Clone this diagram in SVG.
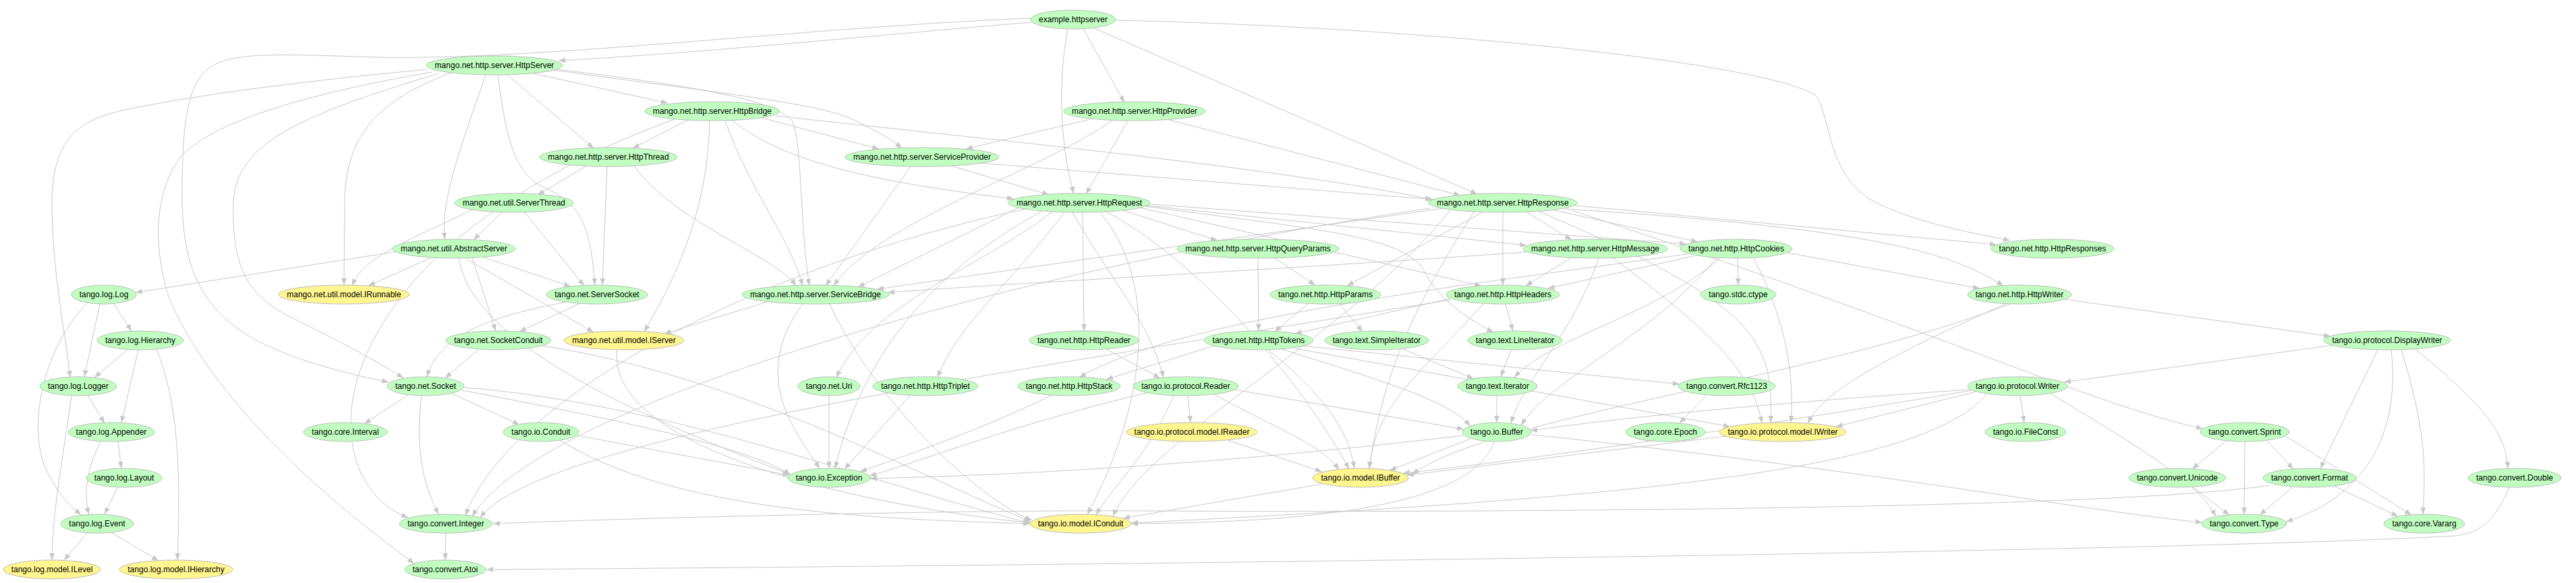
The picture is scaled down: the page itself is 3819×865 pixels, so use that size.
<svg xmlns="http://www.w3.org/2000/svg" width="3819" height="865" viewBox="0 0 3819 865">
<style>
.e path{fill:none;stroke:#c8c8c8;stroke-width:1;marker-end:url(#ah)}
.n ellipse{stroke:#bbbbbb;stroke-width:1}
.g ellipse{fill:#c1ffc1}
.y ellipse{fill:#fff68f}
.n text{font-family:"Liberation Sans",Arial,sans-serif;font-size:12px;text-anchor:middle;fill:#000}
</style>
<defs>
<marker id="ah" markerUnits="userSpaceOnUse" markerWidth="10" markerHeight="8" viewBox="0 0 10 8" refX="10" refY="4" orient="auto"><path d="M0,0L10,4L0,8z" fill="#c8c8c8"/></marker>
</defs>
<rect width="3819" height="865" fill="#ffffff"/>
<g id="edges" class="e">
<path d="M1529,33 C1300,52 1050,78 828,90"/>
<path d="M1606,43 L1667,152"/>
<path d="M1583,43 C1568,120 1572,220 1592,287"/>
<path d="M1620,41 L2190,288"/>
<path d="M1654,30 C2100,40 2600,90 2690,140 C2715,165 2705,260 2780,300 C2850,335 2950,350 2980,357"/>
<path d="M1529,27 C1200,40 800,90 560,85 C400,80 330,75 300,110 C275,140 270,200 270,290 C270,400 300,460 380,505 C450,540 520,555 576,567"/>
<path d="M791,109 L990,153"/>
<path d="M751,110 L880,220"/>
<path d="M822,104 C1000,130 1200,150 1260,175 C1300,195 1320,205 1337,220"/>
<path d="M826,103 C1050,130 1150,150 1175,180 C1190,220 1185,330 1200,424"/>
<path d="M720,111 C690,200 650,300 660,355"/>
<path d="M738,111 C750,200 760,250 800,275 C860,300 875,330 882,423"/>
<path d="M668,108 C560,150 512,200 511,300 L510,423"/>
<path d="M634,103 C450,120 300,140 200,160 C120,175 78,200 77,300 C77,400 95,480 104,560"/>
<path d="M640,107 C450,140 320,180 270,230 C230,280 225,360 250,440 C290,540 400,680 614,836"/>
<path d="M650,109 C450,170 350,210 346,300 C343,400 370,440 430,470 C500,505 550,530 598,561"/>
<path d="M1020,178 L938,220"/>
<path d="M1130,175 L1303,221"/>
<path d="M1085,178 C1150,230 1250,265 1503,295"/>
<path d="M1150,172 C1500,210 1900,250 2123,296"/>
<path d="M1075,179 C1110,280 1170,350 1190,424"/>
<path d="M1052,179 C1050,300 1010,400 955,492"/>
<path d="M1000,177 C850,230 700,320 620,410 C540,500 500,600 530,690 C550,740 580,758 605,768"/>
<path d="M1620,176 L1432,221"/>
<path d="M1672,179 L1610,288"/>
<path d="M1730,177 L2165,290"/>
<path d="M1650,178 C1550,250 1300,330 1236,424"/>
<path d="M870,246 L797,289"/>
<path d="M900,247 L893,423"/>
<path d="M940,246 C1000,330 1150,380 1180,424"/>
<path d="M1410,246 L1555,289"/>
<path d="M1455,242 L2125,296"/>
<path d="M1350,247 L1224,424"/>
<path d="M745,314 L702,356"/>
<path d="M700,311 C600,360 540,380 522,424"/>
<path d="M778,315 L866,424"/>
<path d="M1665,312 L1805,357"/>
<path d="M1700,305 L2263,364"/>
<path d="M1705,303 L2500,362"/>
<path d="M1605,315 L1607,491"/>
<path d="M1560,314 C1450,400 1290,450 1240,560"/>
<path d="M1578,315 C1500,420 1420,480 1390,560"/>
<path d="M1510,308 L1272,426"/>
<path d="M1690,308 L2196,424"/>
<path d="M1698,306 C1950,340 2080,350 2110,400 C2130,440 2170,470 2214,493"/>
<path d="M1590,315 C1650,420 1700,470 1725,560"/>
<path d="M1545,313 C1350,420 1270,560 1238,695"/>
<path d="M1640,314 C1800,400 1950,600 2000,696"/>
<path d="M1520,310 C1100,400 750,600 690,765"/>
<path d="M1630,314 C1720,420 1700,600 1612,763"/>
<path d="M2262,314 L2330,356"/>
<path d="M2300,311 L2517,359"/>
<path d="M2335,305 L2960,363"/>
<path d="M2320,310 C2800,340 2900,380 2970,424"/>
<path d="M2200,314 L1997,424"/>
<path d="M2228,315 L2228,423"/>
<path d="M2280,313 C2600,450 2630,500 2625,627"/>
<path d="M2140,309 L1300,429"/>
<path d="M2185,314 C2100,450 2050,550 2030,695"/>
<path d="M2150,312 C2000,500 1700,650 1650,766"/>
<path d="M2120,309 C1500,400 800,600 700,766"/>
<path d="M2330,312 C2900,500 3100,600 3266,636"/>
<path d="M590,373 L201,434"/>
<path d="M640,382 L546,424"/>
<path d="M715,381 L846,425"/>
<path d="M700,383 L735,491"/>
<path d="M690,383 L880,493"/>
<path d="M680,383 C700,500 900,600 1172,704"/>
<path d="M1890,383 L1950,423"/>
<path d="M1865,383 L1866,491"/>
<path d="M2330,382 L2262,424"/>
<path d="M2262,374 C1900,400 1500,420 1316,434"/>
<path d="M2370,383 C2330,500 2260,560 2240,628"/>
<path d="M2390,382 C2550,500 2600,560 2612,628"/>
<path d="M2576,383 L2577,423"/>
<path d="M2510,380 L2295,428"/>
<path d="M2650,375 L2935,428"/>
<path d="M2550,383 C2450,470 2300,500 2245,560"/>
<path d="M2545,382 C2450,500 2300,560 2255,631"/>
<path d="M2600,383 C2650,480 2660,560 2655,627"/>
<path d="M2500,377 C2200,420 1750,470 1600,560"/>
<path d="M1940,450 L1890,492"/>
<path d="M1985,450 L2020,492"/>
<path d="M2150,443 L1920,495"/>
<path d="M2232,451 L2243,491"/>
<path d="M2200,450 C2100,560 2040,600 2030,695"/>
<path d="M2150,445 C1500,550 800,650 712,768"/>
<path d="M3060,444 L3455,499"/>
<path d="M2975,450 C2750,550 2700,590 2680,628"/>
<path d="M2980,451 C2700,560 2200,620 2094,704"/>
<path d="M168,450 L195,491"/>
<path d="M148,451 L125,559"/>
<path d="M130,449 C60,520 40,640 70,700 C90,740 110,755 120,764"/>
<path d="M190,518 L140,560"/>
<path d="M205,519 L180,627"/>
<path d="M232,518 C265,600 268,700 263,831"/>
<path d="M710,518 L660,561"/>
<path d="M805,513 C1100,560 1350,700 1528,774"/>
<path d="M840,448 C720,470 650,500 633,559"/>
<path d="M860,450 L770,492"/>
<path d="M915,519 C900,650 1200,740 1527,776"/>
<path d="M1140,447 L985,495"/>
<path d="M1190,451 C1110,560 1180,640 1215,695"/>
<path d="M1230,451 C1300,600 1450,740 1530,772"/>
<path d="M1640,518 L1720,561"/>
<path d="M1800,513 L1640,563"/>
<path d="M1930,513 L2490,570"/>
<path d="M1900,518 C2100,580 2150,600 2180,632"/>
<path d="M1880,519 C1980,600 2000,650 2008,695"/>
<path d="M1920,517 L2565,633"/>
<path d="M2080,518 L2185,562"/>
<path d="M2240,519 L2225,559"/>
<path d="M3460,512 L3060,567"/>
<path d="M3525,519 L3440,695"/>
<path d="M3580,517 C3680,600 3715,640 3718,695"/>
<path d="M3545,519 C3560,650 3500,740 3389,774"/>
<path d="M3560,519 C3600,650 3595,700 3592,763"/>
<path d="M130,586 L155,628"/>
<path d="M106,587 C90,700 78,760 77,831"/>
<path d="M605,586 L540,629"/>
<path d="M670,584 L770,630"/>
<path d="M625,587 C615,680 630,720 650,763"/>
<path d="M685,579 C900,620 1100,660 1172,704"/>
<path d="M688,575 C1000,600 1300,720 1527,776"/>
<path d="M1229,587 L1229,695"/>
<path d="M1350,586 L1252,696"/>
<path d="M1560,586 C1450,640 1330,680 1275,700"/>
<path d="M1761,587 L1765,627"/>
<path d="M1830,578 L2170,637"/>
<path d="M1800,585 C1900,640 1960,660 1985,697"/>
<path d="M1700,583 C1500,630 1350,690 1289,706"/>
<path d="M1740,587 C1700,680 1650,720 1625,764"/>
<path d="M2219,587 L2219,627"/>
<path d="M2530,586 L2490,628"/>
<path d="M2995,587 L3001,627"/>
<path d="M2930,581 L2722,633"/>
<path d="M2920,578 C2600,600 2400,620 2269,639"/>
<path d="M2925,579 C2500,650 2200,690 2080,702"/>
<path d="M2945,585 C2850,700 2400,740 1677,776"/>
<path d="M3040,584 C3200,680 3260,720 3285,766"/>
<path d="M175,655 L180,695"/>
<path d="M150,654 C125,700 125,740 132,763"/>
<path d="M855,646 L1170,705"/>
<path d="M830,653 C1000,760 1300,770 1527,777"/>
<path d="M1820,653 L1960,700"/>
<path d="M2180,651 L2060,698"/>
<path d="M2170,646 C1800,690 1500,705 1290,710"/>
<path d="M2215,655 C2180,760 1900,775 1677,777"/>
<path d="M2270,645 C2800,700 3100,760 3265,775"/>
<path d="M2560,647 L2086,705"/>
<path d="M3300,654 L3250,696"/>
<path d="M3360,653 L3400,696"/>
<path d="M3328,655 L3327,763"/>
<path d="M3390,648 L3575,764"/>
<path d="M175,722 L155,763"/>
<path d="M1960,718 L1665,769"/>
<path d="M3250,722 L3305,764"/>
<path d="M3400,722 L3350,764"/>
<path d="M3460,721 L3555,766"/>
<path d="M3365,720 C3100,760 2000,760 1700,758 C1400,756 900,770 731,777"/>
<path d="M3720,723 C3700,770 3680,790 3640,795 C3200,820 1500,840 721,845"/>
<path d="M130,790 L95,831"/>
<path d="M165,790 L235,832"/>
<path d="M661,791 L660,831"/>
</g>
<g id="n_example_httpserver" class="n g"><ellipse cx="1591" cy="29" rx="63" ry="14"/><text x="1591" y="33">example.httpserver</text></g>
<g id="n_HttpServer" class="n g"><ellipse cx="733" cy="97" rx="101" ry="14"/><text x="733" y="101">mango.net.http.server.HttpServer</text></g>
<g id="n_HttpBridge" class="n g"><ellipse cx="1056" cy="165" rx="100" ry="14"/><text x="1056" y="169">mango.net.http.server.HttpBridge</text></g>
<g id="n_HttpProvider" class="n g"><ellipse cx="1682" cy="165" rx="105" ry="14"/><text x="1682" y="169">mango.net.http.server.HttpProvider</text></g>
<g id="n_HttpThread" class="n g"><ellipse cx="902" cy="233" rx="102" ry="14"/><text x="902" y="237">mango.net.http.server.HttpThread</text></g>
<g id="n_ServiceProvider" class="n g"><ellipse cx="1367" cy="233" rx="114" ry="14"/><text x="1367" y="237">mango.net.http.server.ServiceProvider</text></g>
<g id="n_ServerThread" class="n g"><ellipse cx="762" cy="301" rx="88" ry="14"/><text x="762" y="305">mango.net.util.ServerThread</text></g>
<g id="n_HttpRequest" class="n g"><ellipse cx="1600" cy="301" rx="105" ry="14"/><text x="1600" y="305">mango.net.http.server.HttpRequest</text></g>
<g id="n_HttpResponse" class="n g"><ellipse cx="2228" cy="301" rx="110" ry="14"/><text x="2228" y="305">mango.net.http.server.HttpResponse</text></g>
<g id="n_AbstractServer" class="n g"><ellipse cx="673" cy="369" rx="91" ry="14"/><text x="673" y="373">mango.net.util.AbstractServer</text></g>
<g id="n_HttpQueryParams" class="n g"><ellipse cx="1865" cy="369" rx="120" ry="14"/><text x="1865" y="373">mango.net.http.server.HttpQueryParams</text></g>
<g id="n_HttpMessage" class="n g"><ellipse cx="2365" cy="369" rx="107" ry="14"/><text x="2365" y="373">mango.net.http.server.HttpMessage</text></g>
<g id="n_HttpCookies" class="n g"><ellipse cx="2574" cy="369" rx="83" ry="14"/><text x="2574" y="373">tango.net.http.HttpCookies</text></g>
<g id="n_HttpResponses" class="n g"><ellipse cx="3043" cy="369" rx="91" ry="14"/><text x="3043" y="373">tango.net.http.HttpResponses</text></g>
<g id="n_log_Log" class="n g"><ellipse cx="154" cy="437" rx="48" ry="14"/><text x="154" y="441">tango.log.Log</text></g>
<g id="n_IRunnable" class="n y"><ellipse cx="510" cy="437" rx="97" ry="14"/><text x="510" y="441">mango.net.util.model.IRunnable</text></g>
<g id="n_ServerSocket" class="n g"><ellipse cx="885" cy="437" rx="75" ry="14"/><text x="885" y="441">tango.net.ServerSocket</text></g>
<g id="n_ServiceBridge" class="n g"><ellipse cx="1209" cy="437" rx="109" ry="14"/><text x="1209" y="441">mango.net.http.server.ServiceBridge</text></g>
<g id="n_HttpParams" class="n g"><ellipse cx="1965" cy="437" rx="82" ry="14"/><text x="1965" y="441">tango.net.http.HttpParams</text></g>
<g id="n_HttpHeaders" class="n g"><ellipse cx="2228" cy="437" rx="84" ry="14"/><text x="2228" y="441">tango.net.http.HttpHeaders</text></g>
<g id="n_ctype" class="n g"><ellipse cx="2577" cy="437" rx="56" ry="14"/><text x="2577" y="441">tango.stdc.ctype</text></g>
<g id="n_HttpWriter" class="n g"><ellipse cx="2994" cy="437" rx="77" ry="14"/><text x="2994" y="441">tango.net.http.HttpWriter</text></g>
<g id="n_Hierarchy" class="n g"><ellipse cx="208" cy="505" rx="64" ry="14"/><text x="208" y="509">tango.log.Hierarchy</text></g>
<g id="n_SocketConduit" class="n g"><ellipse cx="739" cy="505" rx="78" ry="14"/><text x="739" y="509">tango.net.SocketConduit</text></g>
<g id="n_IServer" class="n y"><ellipse cx="925" cy="505" rx="89" ry="14"/><text x="925" y="509">mango.net.util.model.IServer</text></g>
<g id="n_HttpReader" class="n g"><ellipse cx="1607" cy="505" rx="81" ry="14"/><text x="1607" y="509">tango.net.http.HttpReader</text></g>
<g id="n_HttpTokens" class="n g"><ellipse cx="1866" cy="505" rx="81" ry="14"/><text x="1866" y="509">tango.net.http.HttpTokens</text></g>
<g id="n_SimpleIterator" class="n g"><ellipse cx="2041" cy="505" rx="77" ry="14"/><text x="2041" y="509">tango.text.SimpleIterator</text></g>
<g id="n_LineIterator" class="n g"><ellipse cx="2246" cy="505" rx="70" ry="14"/><text x="2246" y="509">tango.text.LineIterator</text></g>
<g id="n_DisplayWriter" class="n g"><ellipse cx="3539" cy="505" rx="94" ry="14"/><text x="3539" y="509">tango.io.protocol.DisplayWriter</text></g>
<g id="n_Logger" class="n g"><ellipse cx="116" cy="573" rx="57" ry="14"/><text x="116" y="577">tango.log.Logger</text></g>
<g id="n_Socket" class="n g"><ellipse cx="631" cy="573" rx="57" ry="14"/><text x="631" y="577">tango.net.Socket</text></g>
<g id="n_Uri" class="n g"><ellipse cx="1229" cy="573" rx="46" ry="14"/><text x="1229" y="577">tango.net.Uri</text></g>
<g id="n_HttpTriplet" class="n g"><ellipse cx="1372" cy="573" rx="78" ry="14"/><text x="1372" y="577">tango.net.http.HttpTriplet</text></g>
<g id="n_HttpStack" class="n g"><ellipse cx="1585" cy="573" rx="76" ry="14"/><text x="1585" y="577">tango.net.http.HttpStack</text></g>
<g id="n_protocol_Reader" class="n g"><ellipse cx="1758" cy="573" rx="78" ry="14"/><text x="1758" y="577">tango.io.protocol.Reader</text></g>
<g id="n_text_Iterator" class="n g"><ellipse cx="2220" cy="573" rx="59" ry="14"/><text x="2220" y="577">tango.text.Iterator</text></g>
<g id="n_Rfc1123" class="n g"><ellipse cx="2560" cy="573" rx="72" ry="14"/><text x="2560" y="577">tango.convert.Rfc1123</text></g>
<g id="n_protocol_Writer" class="n g"><ellipse cx="2991" cy="573" rx="74" ry="14"/><text x="2991" y="577">tango.io.protocol.Writer</text></g>
<g id="n_Appender" class="n g"><ellipse cx="165" cy="641" rx="64" ry="14"/><text x="165" y="645">tango.log.Appender</text></g>
<g id="n_Interval" class="n g"><ellipse cx="512" cy="641" rx="62" ry="14"/><text x="512" y="645">tango.core.Interval</text></g>
<g id="n_io_Conduit" class="n g"><ellipse cx="802" cy="641" rx="56" ry="14"/><text x="802" y="645">tango.io.Conduit</text></g>
<g id="n_IReader" class="n y"><ellipse cx="1767" cy="641" rx="97" ry="14"/><text x="1767" y="645">tango.io.protocol.model.IReader</text></g>
<g id="n_io_Buffer" class="n g"><ellipse cx="2219" cy="641" rx="51" ry="14"/><text x="2219" y="645">tango.io.Buffer</text></g>
<g id="n_Epoch" class="n g"><ellipse cx="2469" cy="641" rx="59" ry="14"/><text x="2469" y="645">tango.core.Epoch</text></g>
<g id="n_IWriter" class="n y"><ellipse cx="2643" cy="641" rx="94" ry="14"/><text x="2643" y="645">tango.io.protocol.model.IWriter</text></g>
<g id="n_FileConst" class="n g"><ellipse cx="3003" cy="641" rx="60" ry="14"/><text x="3003" y="645">tango.io.FileConst</text></g>
<g id="n_Sprint" class="n g"><ellipse cx="3328" cy="641" rx="66" ry="14"/><text x="3328" y="645">tango.convert.Sprint</text></g>
<g id="n_Layout" class="n g"><ellipse cx="184" cy="709" rx="56" ry="14"/><text x="184" y="713">tango.log.Layout</text></g>
<g id="n_io_Exception" class="n g"><ellipse cx="1229" cy="709" rx="61" ry="14"/><text x="1229" y="713">tango.io.Exception</text></g>
<g id="n_IBuffer" class="n y"><ellipse cx="2017" cy="709" rx="71" ry="14"/><text x="2017" y="713">tango.io.model.IBuffer</text></g>
<g id="n_Unicode" class="n g"><ellipse cx="3228" cy="709" rx="72" ry="14"/><text x="3228" y="713">tango.convert.Unicode</text></g>
<g id="n_Format" class="n g"><ellipse cx="3424" cy="709" rx="69" ry="14"/><text x="3424" y="713">tango.convert.Format</text></g>
<g id="n_Double" class="n g"><ellipse cx="3728" cy="709" rx="69" ry="14"/><text x="3728" y="713">tango.convert.Double</text></g>
<g id="n_Event" class="n g"><ellipse cx="144" cy="777" rx="54" ry="14"/><text x="144" y="781">tango.log.Event</text></g>
<g id="n_Integer" class="n g"><ellipse cx="661" cy="777" rx="69" ry="14"/><text x="661" y="781">tango.convert.Integer</text></g>
<g id="n_IConduit" class="n y"><ellipse cx="1602" cy="777" rx="75" ry="14"/><text x="1602" y="781">tango.io.model.IConduit</text></g>
<g id="n_Type" class="n g"><ellipse cx="3327" cy="777" rx="63" ry="14"/><text x="3327" y="781">tango.convert.Type</text></g>
<g id="n_Vararg" class="n g"><ellipse cx="3594" cy="777" rx="60" ry="14"/><text x="3594" y="781">tango.core.Vararg</text></g>
<g id="n_ILevel" class="n y"><ellipse cx="77" cy="845" rx="72" ry="14"/><text x="77" y="849">tango.log.model.ILevel</text></g>
<g id="n_IHierarchy" class="n y"><ellipse cx="261" cy="845" rx="84" ry="14"/><text x="261" y="849">tango.log.model.IHierarchy</text></g>
<g id="n_Atoi" class="n g"><ellipse cx="660" cy="845" rx="60" ry="14"/><text x="660" y="849">tango.convert.Atoi</text></g>
</svg>
